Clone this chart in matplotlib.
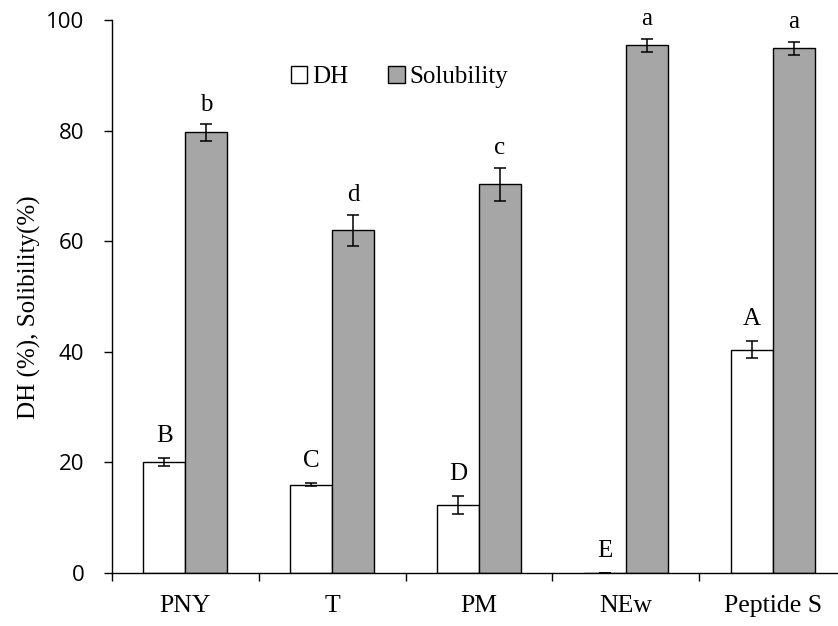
import matplotlib
matplotlib.use("Agg")
import matplotlib.pyplot as plt
import numpy as np

# data
samples = ["PNY", "T", "PM", "NEw", "Peptide S"]
dh = [20.1, 16.0, 12.3, 0.0, 40.4]
dh_err = [0.7, 0.3, 1.6, 0.0, 1.5]
solubility = [79.7, 62.0, 70.3, 95.4, 94.9]
sol_err = [1.5, 2.8, 3.0, 1.2, 1.2]
dh_letters = ["B", "C", "D", "E", "A"]
sol_letters = ["b", "d", "c", "a", "a"]
y_ticks = [0, 20, 40, 60, 80, 100]

serif = "Liberation Serif"
sans = "Open Sans"

fig = plt.figure(figsize=(8.38, 6.26), dpi=100)
# axis runs a little past the right edge of the picture, like the original
ax = fig.add_axes([112 / 838, 53 / 626, 734 / 838, 553 / 626])

x = np.arange(len(samples))
w = 0.286

ax.bar(x - w / 2, dh, w, color="white", edgecolor="black", linewidth=1.0, label="DH", zorder=2)
ax.bar(x + w / 2, solubility, w, color="#a6a6a6", edgecolor="black", linewidth=1.0,
       label="Solubility", zorder=2)
ax.errorbar(x - w / 2, dh, yerr=dh_err, fmt="none", ecolor="black", elinewidth=1.1,
            capsize=4.5, capthick=1.1, zorder=3)
ax.errorbar(x + w / 2, solubility, yerr=sol_err, fmt="none", ecolor="black", elinewidth=1.1,
            capsize=4.5, capthick=1.1, zorder=3)

# significance letters above the error bars
for i in range(len(samples)):
    ax.annotate(dh_letters[i], (x[i] - w / 2, dh[i] + dh_err[i]), xytext=(0, 8),
                textcoords="offset points", ha="center", va="bottom",
                fontsize=18, family=serif)
    ax.annotate(sol_letters[i], (x[i] + w / 2, solubility[i] + sol_err[i]), xytext=(0, 6),
                textcoords="offset points", ha="center", va="bottom",
                fontsize=18, family=serif)

ax.set_ylim(0, 100)
ax.set_xlim(-0.5, 4.5)
ax.set_yticks(y_ticks)
ax.set_yticklabels([str(t) for t in y_ticks], fontsize=16, family=sans)
ax.tick_params(axis="y", direction="out", length=6, width=1.0, pad=14)

# ticks between groups, labels at group centres
ax.set_xticks(np.arange(-0.5, len(samples), 1.0))
ax.set_xticklabels([])
ax.set_xticks(x, minor=True)
ax.set_xticklabels(samples, minor=True, fontsize=18.5, family=serif)
ax.tick_params(axis="x", which="major", direction="out", length=6, width=1.0)
ax.tick_params(axis="x", which="minor", length=0, pad=16)

ax.spines["top"].set_visible(False)
ax.spines["right"].set_visible(False)
ax.spines["left"].set_linewidth(1.0)
ax.spines["bottom"].set_linewidth(1.0)

ax.set_ylabel("DH (%), Solibility(%)", fontsize=18, family=serif)
ax.yaxis.set_label_coords(-0.097, 0.48)

ax.legend(loc="upper left", bbox_to_anchor=(0.23, 0.935), ncol=2, frameon=False,
          prop={"family": serif, "size": 18}, handlelength=0.65, handleheight=0.65,
          handletextpad=0.2, columnspacing=1.6, borderaxespad=0)

fig.savefig("out.png", dpi=100)
